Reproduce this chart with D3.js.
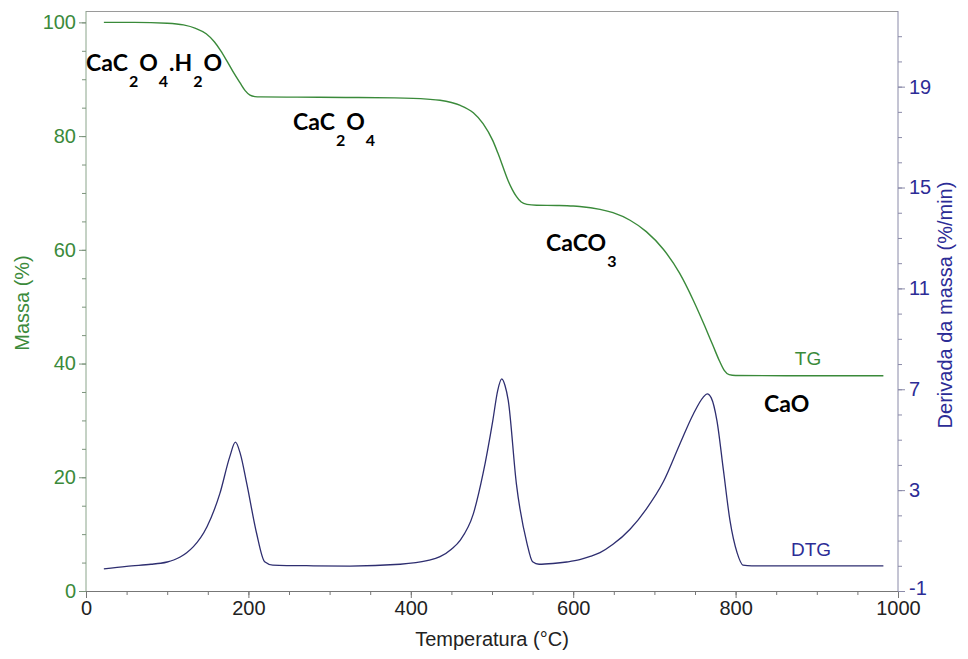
<!DOCTYPE html>
<html>
<head>
<meta charset="utf-8">
<script src="https://cdn.jsdelivr.net/npm/d3@7/dist/d3.min.js"></script>
<style>
  html, body { margin: 0; padding: 0; background: #fff; }
  svg { display: block; }
</style>
</head>
<body>
<svg id="chart" width="968" height="659"></svg>
<script>
// ---- data ----
const tgTemp = [22, 60, 100, 120, 135, 148, 158, 166, 174, 182, 190, 196, 202, 208, 215, 260, 320, 380, 420, 436, 450, 461, 477, 489, 501, 507, 512, 516, 520, 525, 530, 536, 543, 555, 580, 600, 608, 633, 649, 670, 690, 711, 731, 748, 762, 772, 780, 786, 792, 800, 900, 982];
const tgMass = [100, 100, 99.85, 99.55, 98.95, 98.0, 96.6, 95.0, 93.1, 91.1, 89.3, 88.0, 87.2, 86.95, 86.9, 86.85, 86.8, 86.72, 86.5, 86.3, 85.9, 85.4, 84.1, 82.2, 79.2, 77.1, 75.2, 73.6, 72.1, 70.6, 69.4, 68.4, 68.0, 67.85, 67.8, 67.7, 67.62, 67.12, 66.53, 65.2, 63.2, 60.1, 55.9, 51.1, 46.6, 43.2, 40.5, 38.8, 38.05, 37.9, 37.85, 37.85];

const dtgTemp = [22, 50, 80, 92, 100, 108, 116, 124, 132, 149, 165, 177, 184, 190, 198, 210, 220, 230, 280, 325, 387, 420, 436, 450, 461, 477, 489, 501, 507, 512, 516, 520, 530, 543, 550, 558, 575, 592, 608, 620, 633, 649, 670, 690, 711, 731, 748, 760, 765, 770, 777, 785, 793, 802, 809, 820, 900, 982];
const dtgRate = [-0.12, -0.02, 0.06, 0.1, 0.15, 0.23, 0.35, 0.52, 0.75, 1.55, 2.88, 4.32, 4.9, 4.45, 3.26, 1.3, 0.16, 0.03, 0.0, -0.01, 0.06, 0.2, 0.36, 0.66, 1.02, 2.06, 3.66, 5.76, 6.95, 7.41, 7.15, 6.56, 3.26, 0.9, 0.16, 0.06, 0.09, 0.15, 0.24, 0.36, 0.52, 0.85, 1.45, 2.25, 3.33, 4.8, 6.02, 6.68, 6.82, 6.66, 5.76, 3.79, 1.81, 0.5, 0.03, 0.0, 0.0, 0.0];

const xTicks = [0, 200, 400, 600, 800, 1000];
const leftTicks = [0, 20, 40, 60, 80, 100];
const rightTicks = [-1, 3, 7, 11, 15, 19];

// ---- layout ----
const svg = d3.select("#chart");
const L = 86, R = 898, T = 11, B = 591;

const x = d3.scaleLinear().domain([0, 1000]).range([L, R]);
const yL = d3.scaleLinear().domain([0, 102]).range([B, T]);
const yR = d3.scaleLinear().domain([-1, 22]).range([B, T]);

const green = "#3b8a3b";
const navy = "#2c2c96";
const tgColor = "#3a8a3a";
const dtgColor = "#2e2e70";
const font = "'Liberation Sans', Arial, sans-serif";
const fmt = d => String(d);

// top border
svg.append("line").attr("x1", L).attr("x2", R).attr("y1", T + 0.5).attr("y2", T + 0.5)
  .attr("stroke", "#9a9a9a").attr("stroke-width", 1);

// bottom axis
const gx = svg.append("g").attr("transform", `translate(0,${B})`);
gx.call(d3.axisBottom(x).tickValues(d3.range(0, 1001, 50)).tickSize(4).tickFormat(""));
gx.selectAll(".tick line").attr("stroke", "#777");
gx.select(".domain").attr("stroke", "#777");
const gx2 = svg.append("g").attr("transform", `translate(0,${B})`);
gx2.call(d3.axisBottom(x).tickValues(xTicks).tickSize(7).tickPadding(3).tickFormat(fmt));
gx2.select(".domain").remove();
gx2.selectAll(".tick line").attr("stroke", "#777");
gx2.selectAll(".tick text").attr("font-family", font).attr("font-size", 20).attr("fill", "#222");

// left axis
const gl = svg.append("g").attr("transform", `translate(${L},0)`);
gl.call(d3.axisLeft(yL).tickValues(d3.range(0, 101, 5)).tickSize(4).tickFormat(""));
gl.selectAll(".tick line").attr("stroke", "#7c947c");
gl.select(".domain").attr("stroke", "#8aa48a").attr("d", `M0,${B}V${T}`);
const gl2 = svg.append("g").attr("transform", `translate(${L},0)`);
gl2.call(d3.axisLeft(yL).tickValues(leftTicks).tickSize(7).tickPadding(3).tickFormat(fmt));
gl2.select(".domain").remove();
gl2.selectAll(".tick line").attr("stroke", "#7c947c");
gl2.selectAll(".tick text").attr("font-family", font).attr("font-size", 20).attr("fill", green);

// right axis
const gr = svg.append("g").attr("transform", `translate(${R},0)`);
gr.call(d3.axisRight(yR).tickValues(d3.range(-1, 22, 1)).tickSize(4).tickFormat(""));
gr.selectAll(".tick line").attr("stroke", "#8a8aa8");
gr.select(".domain").attr("stroke", "#8a8aa8").attr("d", `M0,${B}V${T}`);
const gr2 = svg.append("g").attr("transform", `translate(${R},0)`);
gr2.call(d3.axisRight(yR).tickValues(rightTicks).tickSize(7).tickPadding(4).tickFormat(fmt));
gr2.select(".domain").remove();
gr2.selectAll(".tick line").attr("stroke", "#8a8aa8");
gr2.selectAll(".tick text").attr("font-family", font).attr("font-size", 20).attr("fill", navy);
gr2.selectAll(".tick text").filter(d => d === -1).attr("dy", "0.18em");

// axis titles
svg.append("text").attr("x", (L + R) / 2).attr("y", 646).attr("text-anchor", "middle")
  .attr("font-family", font).attr("font-size", 20).attr("fill", "#222").text("Temperatura (°C)");
svg.append("text").attr("transform", "translate(29,303) rotate(-90)").attr("text-anchor", "middle")
  .attr("font-family", font).attr("font-size", 20).attr("fill", green).text("Massa (%)");
svg.append("text").attr("transform", "translate(952,305) rotate(-90)").attr("text-anchor", "middle")
  .attr("font-family", font).attr("font-size", 20).attr("fill", navy).text("Derivada da massa (%/min)");

// curves
const tgData = tgTemp.map((t, i) => [t, tgMass[i]]);
const dtgData = dtgTemp.map((t, i) => [t, dtgRate[i]]);

svg.append("path").datum(tgData)
  .attr("d", d3.line().x(d => x(d[0])).y(d => yL(d[1])).curve(d3.curveMonotoneX))
  .attr("fill", "none").attr("stroke", tgColor).attr("stroke-width", 1.4);
svg.append("path").datum(dtgData)
  .attr("d", d3.line().x(d => x(d[0])).y(d => yR(d[1])).curve(d3.curveMonotoneX))
  .attr("fill", "none").attr("stroke", dtgColor).attr("stroke-width", 1.3);

// series labels
svg.append("text").attr("x", 808).attr("y", 365).attr("text-anchor", "middle")
  .attr("font-family", font).attr("font-size", 19).attr("fill", tgColor).text("TG");
svg.append("text").attr("x", 811).attr("y", 556).attr("text-anchor", "middle")
  .attr("font-family", font).attr("font-size", 19).attr("fill", navy).text("DTG");

// chemical species labels
const chemFont = "Lato, 'Open Sans', sans-serif";
function chem(xp, yp, parts) {
  const t = svg.append("text").attr("x", xp).attr("y", yp)
    .attr("font-family", chemFont).attr("font-weight", "bold").attr("font-size", 23).attr("fill", "#000");
  let shift = 0;
  parts.forEach(p => {
    const isSub = p.length === 1 && /[0-9]/.test(p);
    const target = isSub ? 16 : 0;
    const ts = t.append("tspan").attr("dy", target - shift).text(p);
    if (isSub) ts.attr("font-size", 16).attr("dx", 1);
    else if (shift) ts.attr("dx", 1);
    shift = target;
  });
}
chem(86, 71, ["CaC", "2", "O", "4", ".H", "2", "O"]);
chem(293, 130, ["CaC", "2", "O", "4"]);
chem(546, 251, ["CaCO", "3"]);
chem(764, 412, ["CaO"]);
</script>
</body>
</html>
